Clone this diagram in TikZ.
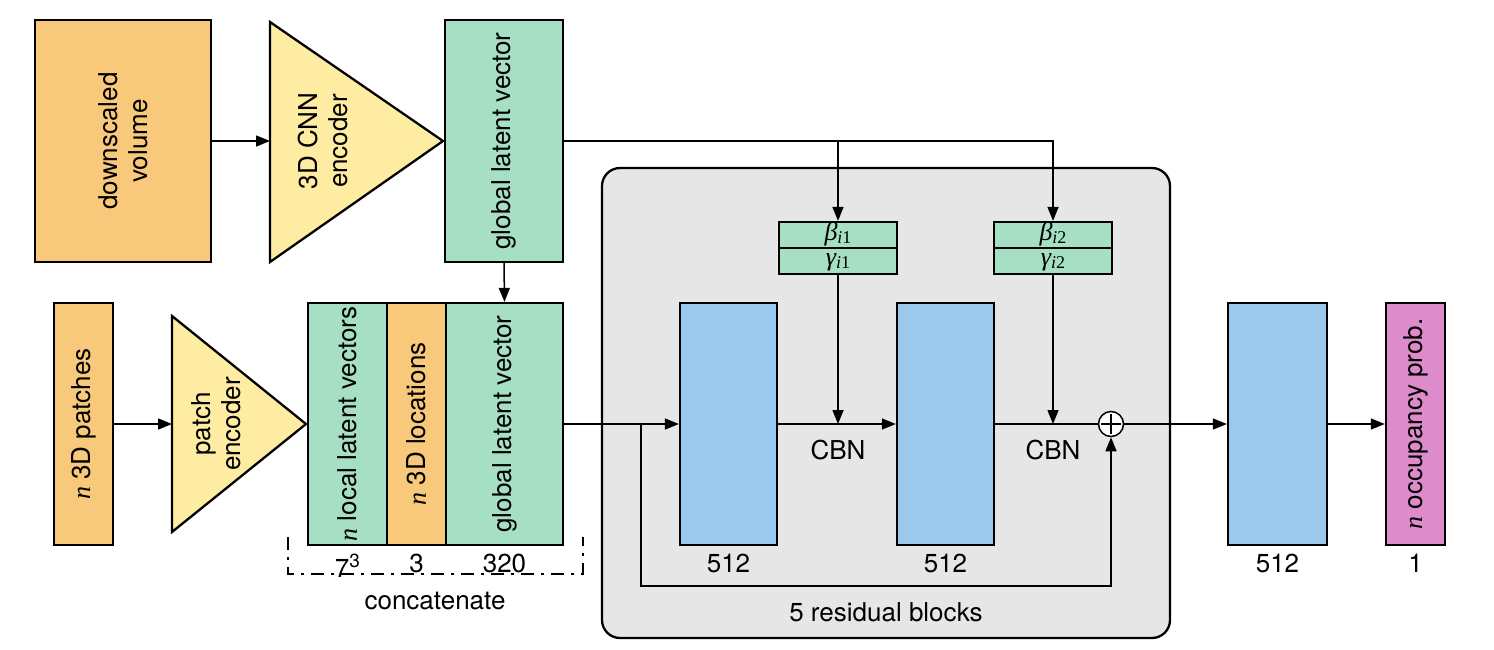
\documentclass[tikz,border=0pt]{standalone}
\usepackage{fontspec}
\setmainfont{TeX Gyre Heros}
\newfontfamily\tms{Liberation Serif}
\usetikzlibrary{arrows.meta}
\definecolor{cOr}{HTML}{F8C97A}
\definecolor{cYe}{HTML}{FDECA2}
\definecolor{cGr}{HTML}{A6DFC4}
\definecolor{cBl}{HTML}{9BC9EE}
\definecolor{cPk}{HTML}{DE8BCB}
\definecolor{cGy}{HTML}{E6E6E6}
\newcommand{\nvar}{{\tms\itshape n}}
\newcommand{\parm}[2]{{\fontsize{26}{27}\selectfont\tms\itshape #1}\raisebox{-3pt}{\fontsize{18}{20}\selectfont\tms{\itshape i}#2}}
\begin{document}
\begin{tikzpicture}[x=1pt,y=-1pt,
  font=\fontsize{26}{30}\selectfont,
  box/.style={draw, line width=2.3pt, inner sep=0pt},
  vtext/.style={rotate=90, align=center, inner sep=0pt},
  arr/.style={line width=1.5pt, -{Triangle[length=14pt,width=11pt]}},
  ln/.style={line width=1.5pt},
  num/.style={anchor=north, inner sep=0pt, yshift=-8pt},
  small/.style={inner sep=0pt}]
\useasboundingbox (0,0) rectangle (1494,649);

% gray residual block background
\draw[line width=2.3pt, fill=cGy, rounded corners=18pt] (602,168) rectangle (1170,638);
\node (res) at (886,612) {5 residual blocks};

% top row
\node[box, fill=cOr, minimum width=176, minimum height=242] (vol) at (123,141) {};
\node[vtext] at (vol) {downscaled\\volume};
\coordinate (cnnL) at (270,141);
\coordinate (cnnR) at (443,141);
\draw[line width=2.3pt, fill=cYe, line join=miter] (270,22) -- (cnnR) -- (270,262) -- cycle;
\node[vtext] (cnn) at (323,141) {3D CNN\\encoder};
\node[box, fill=cGr, minimum width=118, minimum height=242] (gtop) at (504,141) {};
\node[vtext] at (gtop) {global latent vector};
\draw[arr] (vol.east) -- (cnnL);

% bottom row
\node[box, fill=cOr, minimum width=59, minimum height=242] (pat) at (83.5,424) {};
\node[vtext] at (pat) {\nvar\ 3D patches};
\coordinate (peL) at (172,424);
\coordinate (peR) at (306,424);
\draw[line width=2.3pt, fill=cYe, line join=miter] (172,316) -- (peR) -- (172,532) -- cycle;
\node[vtext] (pe) at (216,424) {patch\\encoder};
\draw[arr] (pat.east) -- (peL);

\node[box, fill=cGr, minimum width=79, minimum height=242] (loc) at (347.5,424) {};
\node[vtext] at (loc) {\nvar\ local latent vectors};
\node[box, fill=cOr, minimum width=59, minimum height=242] (xyz) at (416.5,424) {};
\node[vtext] at (xyz) {\nvar\ 3D locations};
\node[box, fill=cGr, minimum width=117, minimum height=242] (gcat) at (504.5,424) {};
\node[vtext] at (gcat) {global latent vector};
\draw[arr] (gtop.south) -- (gcat.north);

\node[num] at (loc.south) {7\raisebox{10pt}{\fontsize{19}{22}\selectfont 3}};
\node[num] at (xyz.south) {3};
\node[num] at (gcat.south) {320};
\draw[line width=2pt, dash pattern=on 13pt off 7pt on 3pt off 7pt] (288,537) -- (288,574) -- (583,574) -- (583,537);
\node (cc) at (435,601) {concatenate};

% residual blocks
\node[box, fill=cBl, minimum width=97, minimum height=242] (bl1) at (728.5,424) {};
\node[box, fill=cBl, minimum width=97, minimum height=242] (bl2) at (945.5,424) {};
\node[num] at (bl1.south) {512};
\node[num] at (bl2.south) {512};

\node[box, fill=cGr, minimum width=118, minimum height=26] (be1) at (838,235) {};
\node[box, fill=cGr, minimum width=118, minimum height=26] (ga1) at (838,261) {};
\node[small] at ([yshift=1pt]be1.center) {\parm{β}{1}};
\node[small] at ([yshift=-1pt]ga1.center) {\parm{γ}{1}};
\node[box, fill=cGr, minimum width=118, minimum height=26] (be2) at (1053,235) {};
\node[box, fill=cGr, minimum width=118, minimum height=26] (ga2) at (1053,261) {};
\node[small] at ([yshift=1pt]be2.center) {\parm{β}{2}};
\node[small] at ([yshift=-1pt]ga2.center) {\parm{γ}{2}};

\draw[arr] (gtop.east) -| (be1.north);
\draw[arr] (gtop.east) -| (be2.north);

\node[draw, circle, line width=1.5pt, fill=white, minimum size=25pt, inner sep=0pt] (plus) at (1111,424) {};
\draw[line width=1.2pt] ([xshift=-10pt]plus.center) -- ([xshift=10pt]plus.center)
  ([yshift=-10pt]plus.center) -- ([yshift=10pt]plus.center);

\coordinate (split) at (641,424);
\draw[arr] (gcat.east) -- (bl1.west);
\draw[arr] (bl1.east) -- (bl2.west);
\draw[ln] (bl2.east) -- (plus.west);
\draw[arr] (split) -- (641,586) -| (plus.south);

\coordinate (c1) at (838,424);
\coordinate (c2) at (1053,424);
\draw[arr] (ga1.south) -- (c1);
\draw[arr] (ga2.south) -- (c2);
\node (cbn1) at (838,450) {CBN};
\node (cbn2) at (1053,450) {CBN};

% output
\node[box, fill=cBl, minimum width=99, minimum height=242] (bl3) at (1277.5,424) {};
\node[num] at (bl3.south) {512};
\node[box, fill=cPk, minimum width=59, minimum height=242] (occ) at (1415.5,424) {};
\node[vtext] at (occ) {\nvar\ occupancy prob.};
\node[num] at (occ.south) {1};
\draw[arr] (plus.east) -- (bl3.west);
\draw[arr] (bl3.east) -- (occ.west);
\end{tikzpicture}
\end{document}
